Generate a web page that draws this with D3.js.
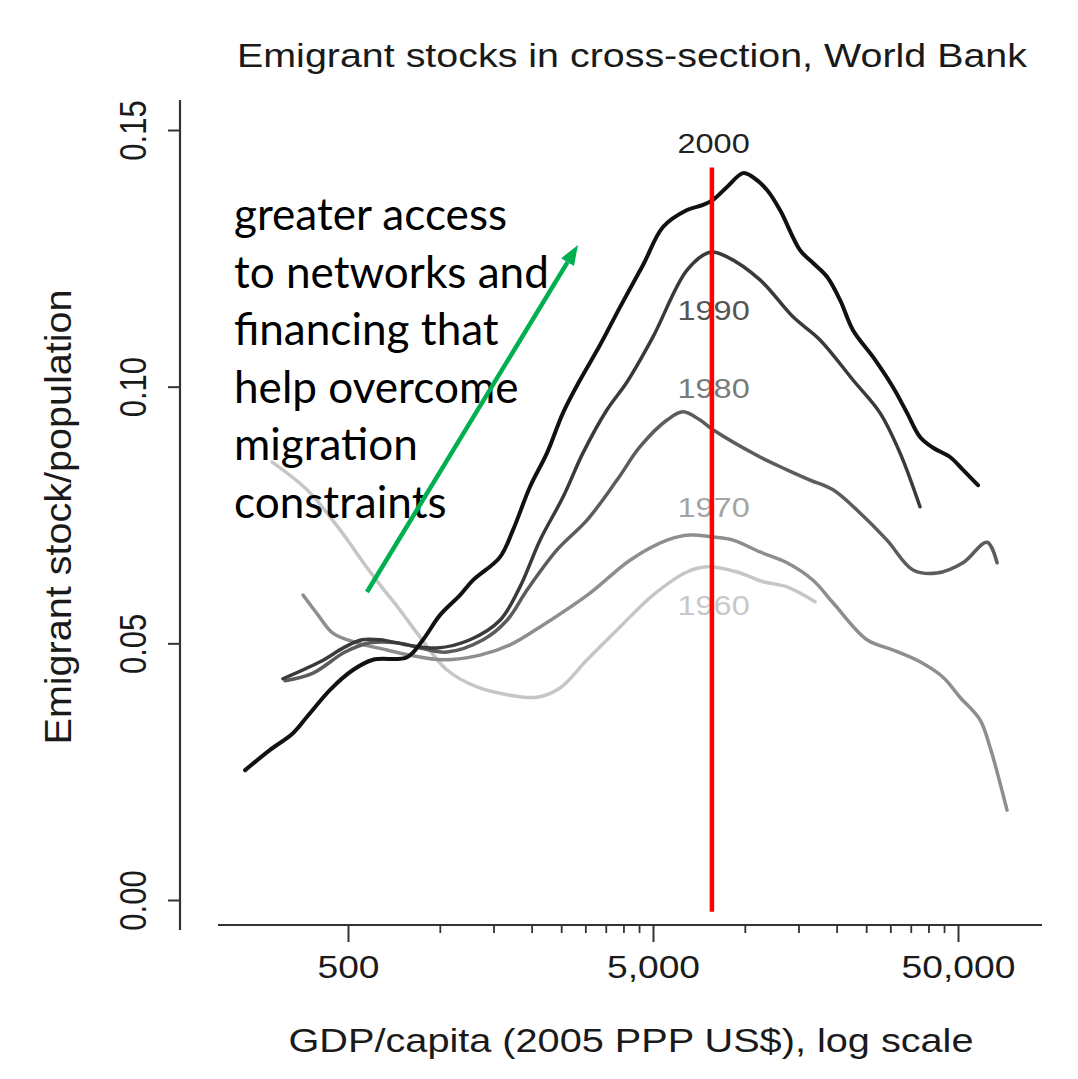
<!DOCTYPE html>
<html><head><meta charset="utf-8">
<script src="https://cdn.jsdelivr.net/npm/d3@7"></script>
<style>body{margin:0;background:#fff}svg{display:block}</style>
</head><body>
<svg id="chart" width="1078" height="1079"></svg>
<script>
// ---------------- data ----------------
const title = "Emigrant stocks in cross-section, World Bank";
const xLabel = "GDP/capita (2005 PPP US$), log scale";
const yLabel = "Emigrant stock/population";
const years = ["1960", "1970", "1980", "1990", "2000"];

const gdp1960 = [282, 367, 471, 568, 637, 740, 842, 1056, 1324, 1699, 2083, 2478, 3039, 3898, 5000, 6464, 7517, 9429, 11475, 13751, 16989];
const val1960 = [0.0853, 0.0799, 0.0721, 0.0653, 0.0614, 0.0565, 0.0520, 0.0448, 0.0415, 0.0399, 0.0395, 0.0413, 0.0468, 0.0532, 0.0594, 0.0639, 0.0649, 0.0639, 0.0620, 0.0610, 0.0581];

const gdp1970 = [356, 399, 446, 535, 671, 798, 1025, 1355, 1699, 2131, 3108, 4203, 5558, 6612, 7866, 9149, 11217, 13751, 16736, 19463, 25151, 30611, 37533, 44645, 50760, 59050, 63650, 72400];
const val1970 = [0.0594, 0.0555, 0.0520, 0.0501, 0.0487, 0.0477, 0.0468, 0.0477, 0.0497, 0.0532, 0.0598, 0.0662, 0.0701, 0.0711, 0.0707, 0.0701, 0.0678, 0.0657, 0.0623, 0.0579, 0.0507, 0.0487, 0.0464, 0.0434, 0.0395, 0.0351, 0.0298, 0.0175];

const gdp1980 = [311, 384, 489, 590, 724, 861, 1056, 1386, 1661, 1932, 2422, 3039, 3810, 4534, 5558, 6272, 7131, 7866, 11217, 13751, 16361, 19463, 23860, 29253, 35606, 42665, 51925, 62250, 67150];
const val1980 = [0.0427, 0.0442, 0.0483, 0.0501, 0.0501, 0.0491, 0.0483, 0.0507, 0.0545, 0.0604, 0.0682, 0.0740, 0.0818, 0.0883, 0.0935, 0.0951, 0.0935, 0.0916, 0.0863, 0.0838, 0.0818, 0.0799, 0.0754, 0.0701, 0.0643, 0.0637, 0.0657, 0.0697, 0.0657];

const gdp1990 = [306, 405, 489, 556, 637, 781, 979, 1256, 1575, 1832, 2131, 2535, 2948, 3533, 4109, 5000, 6464, 7690, 8743, 11217, 14387, 17641, 22629, 27747, 32268, 37533];
const val1990 = [0.0431, 0.0464, 0.0493, 0.0507, 0.0507, 0.0497, 0.0491, 0.0507, 0.0545, 0.0610, 0.0701, 0.0785, 0.0871, 0.0955, 0.1009, 0.1097, 0.1227, 0.1262, 0.1253, 0.1208, 0.1136, 0.1091, 0.1013, 0.0949, 0.0871, 0.0766];

const gdp2000 = [230, 277, 330, 367, 436, 519, 604, 781, 881, 1001, 1165, 1285, 1575, 1738, 1976, 2247, 2535, 2883, 3352, 3898, 4638, 5393, 6464, 7294, 7866, 8743, 9866, 10641, 11826, 13045, 15170, 16736, 18599, 20518, 22629, 26318, 30611, 34028, 37533, 41395, 47075, 51925, 58150];
const val2000 = [0.0253, 0.0292, 0.0325, 0.0357, 0.0409, 0.0448, 0.0468, 0.0473, 0.0507, 0.0555, 0.0594, 0.0623, 0.0668, 0.0721, 0.0805, 0.0871, 0.0949, 0.1013, 0.1081, 0.1155, 0.1237, 0.1311, 0.1344, 0.1354, 0.1364, 0.1389, 0.1416, 0.1408, 0.1383, 0.1344, 0.1266, 0.1241, 0.1214, 0.1169, 0.1110, 0.1058, 0.0999, 0.0949, 0.0902, 0.0881, 0.0863, 0.0838, 0.0808];

// year label anchor values (gdp, value at text baseline)
const yearLabelGdp = [7900, 7900, 7900, 7900, 7900];
const yearLabelVal = [0.0555, 0.0746, 0.0978, 0.1130, 0.1455];

const xTickValues = [500, 5000, 50000];
const xTickLabels = ["500", "5,000", "50,000"];
const xMinorTicks = [1000, 1500, 2000, 2500, 3000, 3500, 4000, 4500, 10000, 15000, 20000, 25000, 30000, 35000, 40000, 45000];
const yTickValues = [0, 0.05, 0.10, 0.15];
const yTickLabels = ["0.00", "0.05", "0.10", "0.15"];

const markerGdp = 7800;          // red vertical line
const markerRange = [0.1427, -0.0023];
const arrowFrom = [577, 0.0600];  // green arrow (gdp, value)
const arrowTo = [2838, 0.1276];
const noteLines = ["greater access", "to networks and", "financing that", "help overcome", "migration", "constraints"];

// ---------------- styles / layout ----------------
const seriesData = [
  {gdp: gdp1960, val: val1960},
  {gdp: gdp1970, val: val1970},
  {gdp: gdp1980, val: val1980},
  {gdp: gdp1990, val: val1990},
  {gdp: gdp2000, val: val2000}
];
const lineColors = ["#c6c6c6", "#8e8e8e", "#5c5c5c", "#3a3a3a", "#111111"];
const lineWidths = [3.5, 3.5, 3.5, 3.5, 4];
const labelColors = ["#c8c8c8", "#a4a4a4", "#7a7a7a", "#555555", "#222222"];

const svg = d3.select("#chart");
const FONT = "'Liberation Sans', Arial, Helvetica, sans-serif";
const SX = 1.2; // horizontal stretch of the original picture's text

const x = d3.scaleLog().domain([500, 50000]).range([348, 958]);
const y = d3.scaleLinear().domain([0, 0.15]).range([900, 130]);

// title
svg.append("text").attr("x", 632).attr("y", 67)
  .attr("text-anchor", "middle").attr("font-family", FONT).attr("font-size", 33)
  .attr("fill", "#1a1a1a").attr("textLength", 790).attr("lengthAdjust", "spacingAndGlyphs")
  .text(title);

// x axis
const axisY = 925;
const gx = svg.append("g").attr("transform", `translate(0,${axisY})`);
gx.append("line").attr("x1", 218).attr("x2", 1042).attr("y1", 0).attr("y2", 0)
  .attr("stroke", "#333").attr("stroke-width", 2.2);
const xMajor = d3.axisBottom(x).tickValues(xTickValues).tickFormat((d, i) => xTickLabels[i])
  .tickSize(17).tickPadding(14);
const gxMaj = gx.append("g").call(xMajor);
gxMaj.select(".domain").remove();
gxMaj.selectAll(".tick line").attr("stroke", "#333").attr("stroke-width", 2);
gxMaj.selectAll(".tick text").attr("font-family", FONT).attr("font-size", 31).attr("fill", "#1a1a1a")
  .attr("dy", "0.71em").attr("transform", `scale(${SX},1)`);
const xMinor = d3.axisBottom(x).tickValues(xMinorTicks).tickFormat("").tickSize(8);
const gxMin = gx.append("g").call(xMinor);
gxMin.select(".domain").remove();
gxMin.selectAll(".tick line").attr("stroke", "#333").attr("stroke-width", 1.8);

// x label
svg.append("text").attr("x", 631).attr("y", 1052)
  .attr("text-anchor", "middle").attr("font-family", FONT).attr("font-size", 33)
  .attr("fill", "#1a1a1a").attr("textLength", 685).attr("lengthAdjust", "spacingAndGlyphs")
  .text(xLabel);

// y axis
const axisX = 180;
const gy = svg.append("g").attr("transform", `translate(${axisX},0)`);
gy.append("line").attr("x1", 0).attr("x2", 0).attr("y1", 100).attr("y2", 930)
  .attr("stroke", "#333").attr("stroke-width", 2.2);
const yAx = d3.axisLeft(y).tickValues(yTickValues).tickFormat((d, i) => yTickLabels[i]).tickSize(12);
const gyA = gy.append("g").call(yAx);
gyA.select(".domain").remove();
gyA.selectAll(".tick line").attr("stroke", "#333").attr("stroke-width", 2);
gyA.selectAll(".tick text").attr("font-family", FONT).attr("font-size", 31).attr("fill", "#1a1a1a")
  .attr("x", 0).attr("y", -28).attr("dy", 0).attr("text-anchor", "middle")
  .attr("transform", `scale(${SX},1) rotate(-90)`);

// y label
svg.append("text").attr("transform", `translate(71,517) scale(${SX},1) rotate(-90)`)
  .attr("text-anchor", "middle").attr("font-family", FONT).attr("font-size", 30)
  .attr("fill", "#1a1a1a").attr("textLength", 455).attr("lengthAdjust", "spacingAndGlyphs")
  .text(yLabel);

// series
const line = d3.line().x(d => x(d[0])).y(d => y(d[1])).curve(d3.curveCatmullRom.alpha(0.5));
seriesData.forEach((s, i) => {
  const pts = s.gdp.map((g, j) => [g, s.val[j]]);
  svg.append("path").attr("d", line(pts)).attr("fill", "none")
    .attr("stroke", lineColors[i]).attr("stroke-width", lineWidths[i])
    .attr("stroke-linejoin", "round").attr("stroke-linecap", "round");
});

// year labels
years.forEach((yr, i) => {
  svg.append("g").attr("transform", `translate(${x(yearLabelGdp[i])},${y(yearLabelVal[i])}) scale(1.16,1)`)
    .append("text").attr("text-anchor", "middle").attr("font-family", FONT).attr("font-size", 28)
    .attr("fill", labelColors[i]).text(yr);
});

// red marker line
svg.append("line").attr("x1", x(markerGdp)).attr("x2", x(markerGdp))
  .attr("y1", y(markerRange[0])).attr("y2", y(markerRange[1]))
  .attr("stroke", "#ff0000").attr("stroke-width", 4.5);

// annotation text
const NOTE_FONT = "Lato, 'Open Sans', 'Noto Sans', sans-serif";
const note = svg.append("g");
const probe = note.append("text").attr("font-family", NOTE_FONT).attr("font-size", 44).text(noteLines[1]);
const probeW = probe.node().getComputedTextLength();
probe.remove();
const noteSize = 44 * 315 / probeW;
noteLines.forEach((t, i) => {
  note.append("text").attr("x", 234).attr("y", 230 + i * 57.6)
    .attr("font-family", NOTE_FONT).attr("font-size", noteSize).attr("fill", "#000").text(t);
});

// green arrow
const ax0 = x(arrowFrom[0]), ay0 = y(arrowFrom[1]);
const ax1 = x(arrowTo[0]), ay1 = y(arrowTo[1]);
const ang = Math.atan2(ay1 - ay0, ax1 - ax0);
const headLen = 20, headHalf = 7.5;
const bx = ax1 - headLen * Math.cos(ang), by = ay1 - headLen * Math.sin(ang);
svg.append("line").attr("x1", ax0).attr("y1", ay0).attr("x2", bx).attr("y2", by)
  .attr("stroke", "#00b050").attr("stroke-width", 4.5);
svg.append("path")
  .attr("d", `M${ax1},${ay1} L${bx - headHalf * Math.sin(ang)},${by + headHalf * Math.cos(ang)} L${bx + headHalf * Math.sin(ang)},${by - headHalf * Math.cos(ang)} Z`)
  .attr("fill", "#00b050");
</script>
</body></html>
